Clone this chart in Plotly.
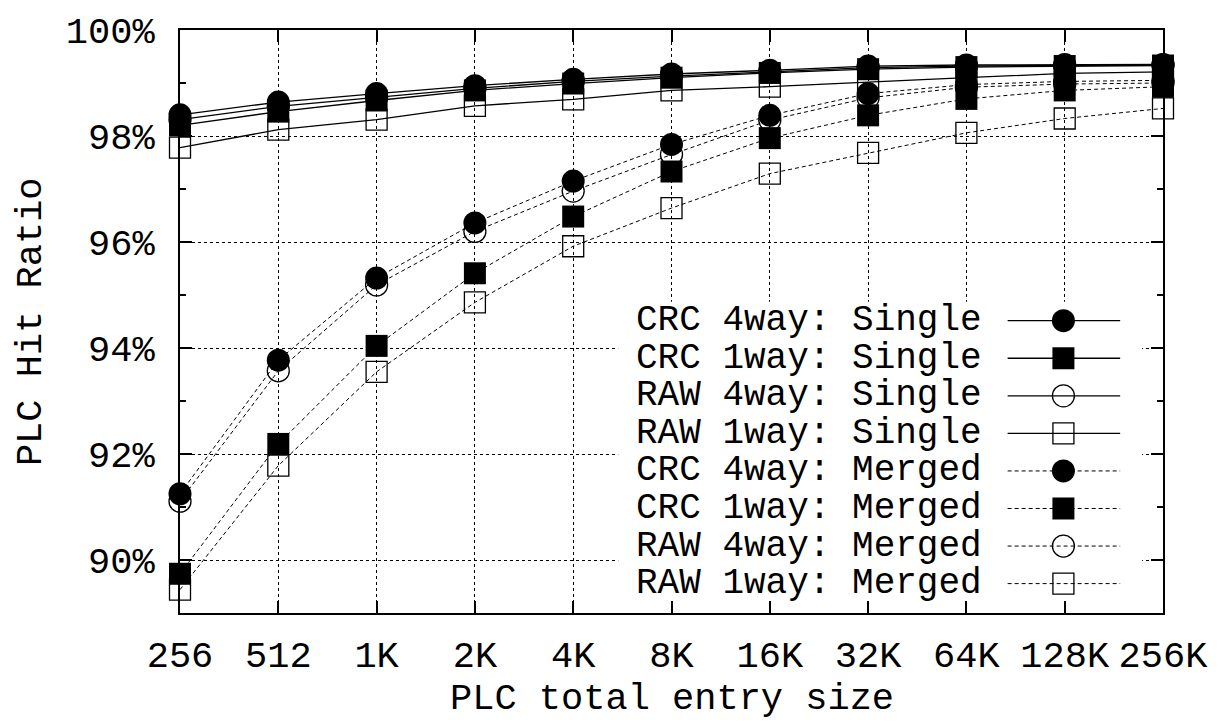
import plotly.graph_objects as go

# ---------------- data ----------------
sizes = ["256", "512", "1K", "2K", "4K", "8K", "16K", "32K", "64K", "128K", "256K"]

crc4_single = [98.40, 98.64, 98.80, 98.95, 99.07, 99.17, 99.24, 99.32, 99.34, 99.35, 99.35]
crc1_single = [98.20, 98.46, 98.67, 98.86, 98.99, 99.10, 99.19, 99.26, 99.30, 99.32, 99.33]
raw4_single = [98.31, 98.56, 98.73, 98.90, 99.03, 99.13, 99.21, 99.29, 99.32, 99.33, 99.34]
raw1_single = [97.78, 98.12, 98.31, 98.57, 98.69, 98.86, 98.93, 99.02, 99.10, 99.18, 99.21]

crc4_merged = [91.25, 93.77, 95.32, 96.36, 97.15, 97.84, 98.39, 98.80, 98.97, 99.03, 99.05]
crc1_merged = [89.74, 92.19, 94.04, 95.41, 96.48, 97.33, 97.96, 98.39, 98.70, 98.86, 98.93]
raw4_merged = [91.11, 93.57, 95.19, 96.20, 96.96, 97.65, 98.30, 98.72, 98.92, 98.98, 99.00]
raw1_merged = [89.44, 91.78, 93.55, 94.86, 95.92, 96.64, 97.29, 97.68, 98.06, 98.33, 98.52]

series_names = [
    "CRC 4way: Single", "CRC 1way: Single", "RAW 4way: Single", "RAW 1way: Single",
    "CRC 4way: Merged", "CRC 1way: Merged", "RAW 4way: Merged", "RAW 1way: Merged",
]
series_values = [crc4_single, crc1_single, raw4_single, raw1_single,
                 crc4_merged, crc1_merged, raw4_merged, raw1_merged]

y_tick_vals = [90, 92, 94, 96, 98, 100]
y_tick_text = ["90%", "92%", "94%", "96%", "98%", "100%"]

# ---------------- styles ----------------
FONT = "Liberation Mono, Courier New, monospace"
FS = 37
FS_KEY = 36
symbols = ["circle", "square", "circle-open", "square-open"] * 2
dashes = ["solid"] * 4 + ["4px,3px"] * 4
msize = {"circle": 23, "square": 22, "circle-open": 22, "square-open": 21}

# plot area in pixels
L, R, T, B = 180, 1167, 20, 613
W, H = 1220, 727

fig = go.Figure()
xs = list(range(len(sizes)))

for name, vals, sym, dash in zip(series_names, series_values, symbols, dashes):
    fig.add_trace(go.Scatter(
        x=xs, y=vals, mode="lines+markers", name=name, showlegend=False,
        cliponaxis=False,
        line=dict(color="black", width=1.3 if dash == "solid" else 1.0, dash=dash),
        marker=dict(symbol=sym, size=msize[sym], color="black",
                    line=dict(color="#111", width=1.3 if "open" in sym else 0)),
    ))

# ---------------- custom key (text left, sample right) ----------------
def fx(px):
    return (px - L) / (R - L)

def fy(py):
    return (B - py) / (B - T)

row0, rowstep = 315.7, 38.2
for i, (name, sym, dash) in enumerate(zip(series_names, symbols, dashes)):
    ry = fy(row0 + i * rowstep)
    fig.add_trace(go.Scatter(
        x=[fx(1011), fx(1124)], y=[ry, ry], mode="lines", showlegend=False,
        xaxis="x2", yaxis="y2", hoverinfo="skip",
        line=dict(color="black", width=1.3 if dash == "solid" else 1.0, dash=dash),
    ))
    fig.add_trace(go.Scatter(
        x=[fx(1067)], y=[ry], mode="markers", showlegend=False,
        xaxis="x2", yaxis="y2", hoverinfo="skip",
        marker=dict(symbol=sym, size=msize[sym], color="black",
                    line=dict(color="#111", width=1.3 if "open" in sym else 0)),
    ))
    fig.add_annotation(
        x=fx(987), y=ry, xref="paper", yref="paper", text=name,
        showarrow=False, xanchor="right", yanchor="middle",
        font=dict(family=FONT, size=FS_KEY, color="black"),
    )

# opaque key background (covers grid only)
fig.add_shape(type="rect", xref="x", yref="y",
              x0=(620 - L) / (R - L) * 10, x1=(1146 - L) / (R - L) * 10,
              y0=89, y1=100 - (297 - T) / 54.0,
              fillcolor="white", line=dict(width=0), layer="between")

# axis titles
fig.add_annotation(x=fx(30), y=0.5, xref="paper", yref="paper",
                   text="PLC Hit Ratio", textangle=-90, showarrow=False,
                   xanchor="center", yanchor="middle",
                   font=dict(family=FONT, size=FS, color="black"))
fig.add_annotation(x=0.5, y=fy(700), xref="paper", yref="paper",
                   text="PLC total entry size", showarrow=False,
                   xanchor="center", yanchor="middle",
                   font=dict(family=FONT, size=FS, color="black"))

fig.update_layout(
    width=W, height=H,
    margin=dict(l=L, r=W - R, t=T, b=H - B),
    paper_bgcolor="white", plot_bgcolor="white",
    font=dict(family=FONT, size=FS, color="black"),
    xaxis=dict(
        range=[0, 10], tickmode="array", tickvals=xs, ticktext=sizes,
        showline=True, linecolor="black", linewidth=2, mirror="ticks",
        ticks="inside", ticklen=12, tickwidth=1.5, tickcolor="black",
        showgrid=True, gridcolor="black", gridwidth=1, griddash="dot",
        zeroline=False, ticklabelstandoff=8,
        tickfont=dict(family=FONT, size=FS, color="black"),
    ),
    yaxis=dict(
        range=[89, 100], tickmode="array", tickvals=y_tick_vals, ticktext=y_tick_text,
        showline=True, linecolor="black", linewidth=2, mirror="ticks",
        ticks="inside", ticklen=12, tickwidth=1.5, tickcolor="black",
        showgrid=True, gridcolor="black", gridwidth=1, griddash="dot",
        zeroline=False, ticklabelstandoff=16,
        minor=dict(dtick=1, tick0=89, ticks="inside", ticklen=6, tickwidth=1.5,
                   tickcolor="black", showgrid=False),
        tickfont=dict(family=FONT, size=FS, color="black"),
    ),
    xaxis2=dict(overlaying="x", range=[0, 1], visible=False, fixedrange=True),
    yaxis2=dict(overlaying="y", range=[0, 1], visible=False, fixedrange=True),
)

fig.write_html("out.html", config={"displayModeBar": False},
               post_script="document.body.style.margin='0px';")
